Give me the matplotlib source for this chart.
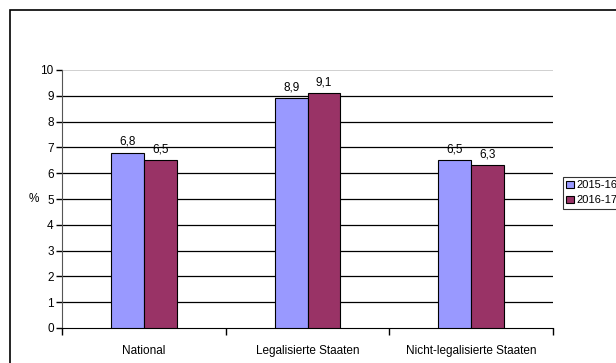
import numpy as np
import matplotlib.pyplot as plt
from matplotlib.patches import Rectangle

plt.rcParams['font.family'] = ['Liberation Sans', 'DejaVu Sans']

categories = ['National', 'Legalisierte Staaten', 'Nicht-legalisierte Staaten']
series_names = ['2015-16', '2016-17']
values_1516 = [6.8, 8.9, 6.5]
values_1617 = [6.5, 9.1, 6.3]
colors = ['#9999FF', '#993366']

fig = plt.figure(figsize=(6.16, 3.63), dpi=100)
ax = fig.add_axes([62 / 616, 1 - 328 / 363, (553 - 62) / 616, (328 - 70) / 363])

# outer chart frame (runs past the right and bottom edges)
fig.patches.append(Rectangle((10 / 616, -0.1), 1.2, 1 - 10 / 363 + 0.1,
                             transform=fig.transFigure, fill=False,
                             edgecolor='black', linewidth=1.2))

x = np.arange(len(categories))
w = 0.2
for i, (vals, name) in enumerate(zip([values_1516, values_1617], series_names)):
    pos = x + (i - 0.5) * w
    ax.bar(pos, vals, width=w, color=colors[i], edgecolor='black',
           linewidth=0.8, label=name, zorder=3)
    for px, v in zip(pos, vals):
        ax.text(px, v + 0.18, f'{v:.1f}'.replace('.', ','), ha='center',
                va='bottom', fontsize=8.5)

ax.set_xlim(-0.5, 2.5)
ax.set_ylim(0, 10)
ax.set_yticks(range(0, 11))
for yv in range(1, 10):
    ax.axhline(yv, color='black', linewidth=0.9, zorder=1)
ax.axhline(10, color='#c8c8c8', linewidth=1.2, zorder=1)

ax.set_xticks(x)
ax.set_xticklabels(categories)
ax.set_xticks([-0.5, 0.5, 1.5, 2.5], minor=True)
ax.tick_params(axis='x', which='major', length=0, pad=12, labelsize=8.5)
ax.tick_params(axis='x', which='minor', length=5, width=1, direction='out')
ax.tick_params(axis='y', length=4, width=1, labelsize=8.5, pad=2)

for s in ['top', 'right']:
    ax.spines[s].set_visible(False)
ax.spines['left'].set_color('#555555')
ax.spines['bottom'].set_color('black')

ax.set_ylabel('%', rotation=0, fontsize=8.5, labelpad=5, va='center')

leg = ax.legend(loc='upper left', bbox_to_anchor=(563 / 616, 1 - 177 / 363),
                bbox_transform=fig.transFigure, fontsize=8, frameon=True,
                fancybox=False, edgecolor='black', handlelength=0.7,
                handleheight=0.7, handletextpad=0.25, borderpad=0.3,
                labelspacing=0.45, borderaxespad=0)
leg.get_frame().set_linewidth(0.8)

fig.savefig('out.png', dpi=100)
